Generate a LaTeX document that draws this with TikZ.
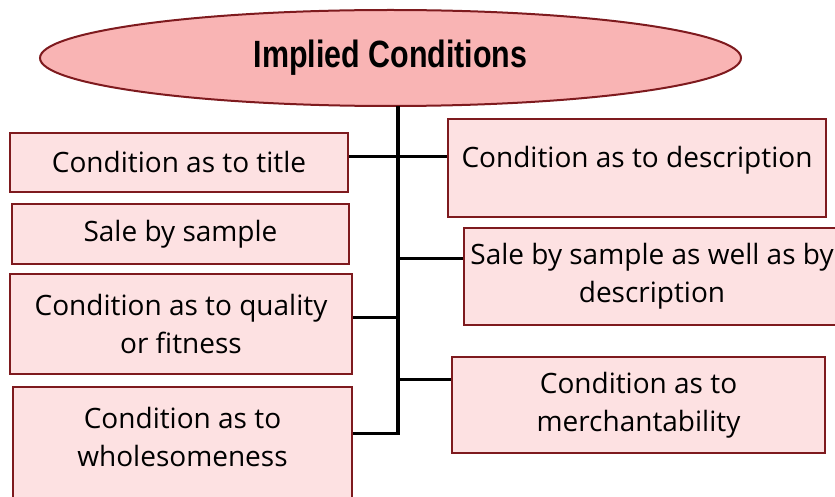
\documentclass[tikz,border=0pt]{standalone}
\usepackage{fontspec}
\setmainfont{Open Sans}
\newfontfamily\titlefont[FakeStretch=0.8]{Liberation Sans}
\usetikzlibrary{shapes.geometric}
\definecolor{boxfill}{HTML}{FDE1E2}
\definecolor{boxline}{HTML}{7E1A1E}
\definecolor{headfill}{HTML}{F9B4B4}

\begin{document}
\begin{tikzpicture}[x=1pt,y=-1pt,
	every node/.style={draw=boxline,line width=2pt,fill=boxfill,inner sep=0pt,align=center,font=\fontsize{28}{38}\selectfont},
	kind/.style={rectangle,anchor=north west},
	link/.style={line width=3pt}]
	\useasboundingbox (0,0) rectangle (835,497);
	\begin{scope}
	\clip (0,0) rectangle (835,497);
	%the head of the tree
	\node[ellipse,fill=headfill,minimum width=701pt,minimum height=96pt,font=\titlefont\bfseries\fontsize{38}{40}\selectfont] (head) at (390.5,58){Implied Conditions};
	%%boxes on the left
	\node[kind,minimum width=338pt,minimum height=59pt] (title) at (9,132){Condition as to title};
	\node[kind,minimum width=337pt,minimum height=60pt] (sample) at (11,203){Sale by sample};
	\node[kind,minimum width=342pt,minimum height=100pt] (quality) at (9,273){Condition as to quality\\or fitness};
	\node[kind,minimum width=339pt,minimum height=150pt] (whole) at (12,386){Condition as to\\wholesomeness\\\strut};
	%%boxes on the right
	\node[kind,minimum width=378pt,text height=49pt,text depth=49pt] (descr) at (447,118){Condition as to description};
	\node[kind,minimum width=376pt,minimum height=97pt] (both) at (463,227){Sale by sample as well as by\\description};
	\node[kind,minimum width=373pt,minimum height=96pt] (merch) at (451,356){Condition as to\\merchantability};
	%% draw the tree, joints placed by hand
	\coordinate (top) at (398,106);
	\coordinate (bottom) at (398,433);
	\coordinate (j1) at (398,157);
	\coordinate (j2) at (398,258);
	\coordinate (j3) at (398,317);
	\coordinate (j4) at (398,379);
	\draw[line width=3.6pt] (top) -- (bottom);
	\draw[link] (j1 -| title.east) -- (j1 -| descr.west);
	\draw[link] (j2) -- (j2 -| both.west);
	\draw[link] (j3 -| quality.east) -- (j3);
	\draw[link] (j4) -- (j4 -| merch.west);
	\draw[link] (bottom -| whole.east) -- ([xshift=1.8pt]bottom);
	\end{scope}
\end{tikzpicture}
\end{document}
